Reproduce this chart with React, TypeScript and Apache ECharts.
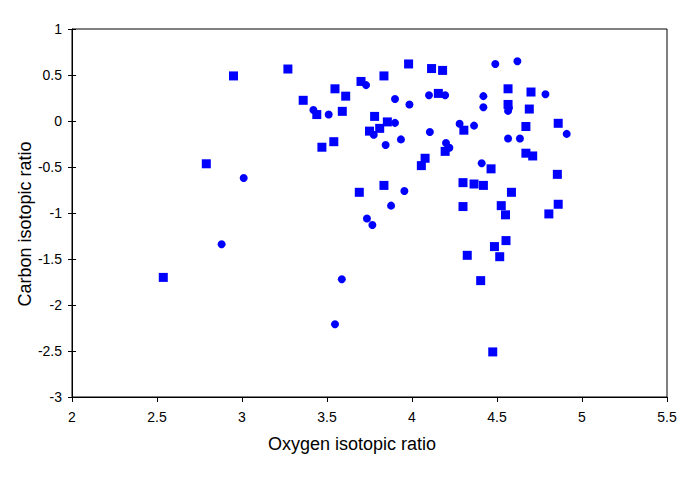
import React, { useEffect, useRef } from "react";
import * as echarts from "echarts";

const xTicks = [2, 2.5, 3, 3.5, 4, 4.5, 5, 5.5];
const yTicks = [-3, -2.5, -2, -1.5, -1, -0.5, 0, 0.5, 1];
const xTitle = "Oxygen isotopic ratio";
const yTitle = "Carbon isotopic ratio";

const squareX = [2.537, 2.79, 2.95, 3.27, 3.36, 3.44, 3.47, 3.54, 3.547, 3.61, 3.59, 3.70, 3.69, 3.78, 3.75, 3.81, 3.835, 3.835, 3.855, 3.98, 4.077, 4.055, 4.115, 4.155, 4.18, 4.195, 4.305, 4.30, 4.365, 4.42, 4.30, 4.325, 4.404, 4.465, 4.475, 4.485, 4.516, 4.525, 4.55, 4.553, 4.565, 4.565, 4.585, 4.67, 4.67, 4.69, 4.70, 4.71, 4.805, 4.855, 4.86, 4.86];
const squareY = [-1.70, -0.465, 0.49, 0.565, 0.225, 0.07, -0.285, -0.225, 0.35, 0.27, 0.105, 0.43, -0.775, 0.05, -0.11, -0.08, 0.49, -0.70, -0.01, 0.62, -0.405, -0.485, 0.57, 0.30, 0.55, -0.33, -0.10, -0.67, -0.685, -0.70, -0.93, -1.46, -1.735, -0.52, -2.51, -1.365, -1.475, -0.92, -1.02, -1.30, 0.35, 0.18, -0.775, -0.06, -0.35, 0.13, 0.315, -0.38, -1.01, -0.58, -0.025, -0.905];

const circleX = [2.88, 3.01, 3.42, 3.51, 3.547, 3.587, 3.73, 3.735, 3.767, 3.775, 3.845, 3.877, 3.90, 3.90, 3.935, 3.955, 3.985, 4.10, 4.105, 4.195, 4.20, 4.22, 4.28, 4.365, 4.41, 4.42, 4.42, 4.49, 4.565, 4.57, 4.565, 4.62, 4.635, 4.785, 4.91];
const circleY = [-1.34, -0.62, 0.12, 0.07, -2.21, -1.72, 0.39, -1.06, -1.13, -0.15, -0.26, -0.92, 0.24, -0.02, -0.20, -0.76, 0.18, 0.28, -0.12, 0.28, -0.24, -0.29, -0.03, -0.05, -0.46, 0.27, 0.15, 0.62, 0.11, 0.14, -0.19, 0.65, -0.19, 0.29, -0.14];

const FONT = "'Liberation Sans', Arial, Helvetica, sans-serif";

export default function App() {
  const ref = useRef<HTMLDivElement>(null);
  useEffect(() => {
    if (!ref.current) return;
    const chart = echarts.init(ref.current, undefined, { renderer: "svg" });
    const squares = squareX.map((x, i) => [x, squareY[i]]);
    const circles = circleX.map((x, i) => [x, circleY[i]]);
    const axisLine = { show: true, onZero: false, lineStyle: { color: "#000", width: 1 } };
    chart.setOption({
      animation: false,
      backgroundColor: "#fff",
      grid: {
        left: 72,
        right: 16,
        top: 29,
        bottom: 84,
        show: true,
        borderColor: "#000",
        borderWidth: 1,
        backgroundColor: "transparent",
      },
      graphic: [
        {
          type: "text",
          x: 352,
          y: 444,
          style: {
            text: xTitle,
            fontFamily: FONT,
            fontSize: 18,
            fill: "#000",
            align: "center",
            verticalAlign: "middle",
          },
        },
        {
          type: "text",
          x: 25,
          y: 224,
          rotation: Math.PI / 2,
          style: {
            text: yTitle,
            fontFamily: FONT,
            fontSize: 18,
            fill: "#000",
            align: "center",
            verticalAlign: "middle",
          },
        },
      ],
      xAxis: {
        type: "value",
        min: xTicks[0],
        max: xTicks[xTicks.length - 1],
        interval: 0.5,
        axisLine,
        axisTick: { show: true, length: 5, lineStyle: { color: "#000" } },
        axisLabel: { fontFamily: FONT, fontSize: 14, color: "#000", margin: 13, showMaxLabel: true, showMinLabel: true },
        splitLine: { show: false },
      },
      yAxis: [
        {
          type: "value",
          min: yTicks[0],
          max: yTicks[yTicks.length - 1],
          interval: 0.5,
          axisLine,
          axisTick: { show: true, length: 4, lineStyle: { color: "#000" } },
          axisLabel: { fontFamily: FONT, fontSize: 14, color: "#000", margin: 10 },
          splitLine: { show: false },
        },
        {
          type: "value",
          position: "left",
          min: yTicks[0],
          max: yTicks[yTicks.length - 1],
          interval: 0.5,
          axisLine: { show: false, onZero: false },
          axisTick: { show: true, inside: true, length: 4, lineStyle: { color: "#000" } },
          axisLabel: { show: false },
          splitLine: { show: false },
        },
      ],
      series: [
        {
          type: "scatter",
          data: squares,
          symbol: "rect",
          symbolSize: 9,
          itemStyle: { color: "#0000ff", opacity: 1 },
          yAxisIndex: 0,
        },
        {
          type: "scatter",
          data: circles,
          symbol: "circle",
          symbolSize: 8,
          itemStyle: { color: "#0000ff", opacity: 1 },
          yAxisIndex: 0,
        },
      ],
    });
    return () => chart.dispose();
  }, []);
  return (
    <div
      ref={ref}
      style={{ position: "fixed", left: 0, top: 0, width: 683, height: 481, background: "#fff" }}
    />
  );
}
